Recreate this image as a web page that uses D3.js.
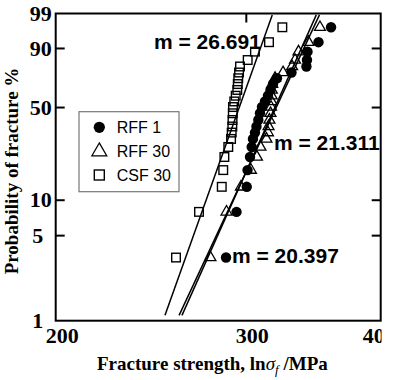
<!DOCTYPE html>
<html>
<head>
<meta charset="utf-8">
<script src="https://cdn.jsdelivr.net/npm/d3@7"></script>
<style>
  html, body { margin: 0; padding: 0; background: #fff; }
  svg { display: block; }
</style>
</head>
<body>
<svg id="chart" width="400" height="380"></svg>
<script>
// ---------------- data ----------------
// Probability of fracture (%) plotting positions shared by the three series
const probPct = [3.2, 7.9, 12.8, 17.5, 22.2, 26.5, 30.4, 33.8, 37.3, 41.3, 45.7, 50.0,
                 54.0, 58.2, 62.5, 66.9, 71.2, 75.3, 79.4, 83.5, 88.2, 92.5, 97.0];
// Fracture strength (MPa)
const rff1  = [287.6, 294.1, 300.6, 301.1, 302.7, 303.8, 304.6, 305.9, 306.9, 308.1, 309.2, 310.5,
               312.5, 314.5, 316.2, 317.9, 320.6, 330.7, 341.4, 341.8, 342.2, 350.3, 359.8];
const rff30 = [278.2, 287.9, 296.9, 303.3, 307.2, 309.5, 313.5, 314.5, 314.9, 315.5, 316.2, 316.6,
               316.9, 317.0, 317.1, 317.4, 319.3, 324.8, 331.1, 333.2, 335.7, 342.9, 351.4];
const csf30 = [258.5, 271.5, 285.0, 285.9, 286.6, 289.0, 290.7, 291.1, 291.5, 291.6, 291.8, 291.9,
               292.7, 293.6, 294.6, 294.9, 295.2, 295.7, 296.3, 301.2, 305.9, 315.2, 324.3];
const seriesNames = ["RFF 1", "RFF 30", "CSF 30"];

// Weibull fit lines: modulus m and strength at the lower end of the line
const fitM        = [20.397, 21.311, 26.691];
const fitLowSigma = [260.2, 261.8, 252.5];
const fitProbRange = [1.0, 98.9];
const fitLabels   = ["m = 20.397", "m = 21.311", "m = 26.691"];

// axis ticks
const probTicks   = [1, 5, 10, 50, 90, 99];
const strengthTicks = [200, 300, 400];
const xDomain = [200, 400];
const yDomainPct = [0.897, 99.034];

// ---------------- drawing ----------------
const svg = d3.select("#chart");
const L = 55.7, R = 380.7, T = 13.5, B = 320.7;

const weib = p => Math.log(-Math.log(1 - p / 100));
const x = d3.scaleLog().domain(xDomain).range([L, R]);
const yW = d3.scaleLinear().domain(yDomainPct.map(weib)).range([B, T]);
const y = p => yW(weib(p));

const serif = "'Liberation Serif','Times New Roman',serif";
const sans = "'Liberation Sans',Arial,Helvetica,sans-serif";

// fit lines
const lineGen = d3.line().x(d => x(d[0])).y(d => y(d[1]));
fitM.forEach((m, i) => {
  const s0 = fitLowSigma[i];
  const w0 = weib(fitProbRange[0]), w1 = weib(fitProbRange[1]);
  const s1 = Math.exp(Math.log(s0) + (w1 - w0) / m);
  svg.append("path")
    .attr("d", lineGen([[s0, fitProbRange[0]], [s1, fitProbRange[1]]]))
    .attr("fill", "none").attr("stroke", "#000").attr("stroke-width", 1.5);
});

// markers
function drawMarker(g, kind, cx, cy, big) {
  if (kind === 0) {
    g.append("circle").attr("cx", cx).attr("cy", cy).attr("r", big ? 5.6 : 5.2).attr("fill", "#000");
  } else if (kind === 1) {
    g.append("path").attr("d", d3.symbol().type(d3.symbolTriangle).size(big ? 95 : 52)())
      .attr("transform", `translate(${cx},${cy})`)
      .attr("fill", "none").attr("stroke", "#000").attr("stroke-width", 1.3);
  } else {
    const s = big ? 10 : 8.6;
    g.append("rect").attr("x", cx - s / 2).attr("y", cy - s / 2).attr("width", s).attr("height", s)
      .attr("fill", "none").attr("stroke", "#000").attr("stroke-width", 1.4);
  }
}
const pts = svg.append("g");
[csf30, rff30, rff1].forEach((arr, k) => {
  const kind = [2, 1, 0][k];
  arr.forEach((s, i) => drawMarker(pts, kind, x(s), y(probPct[i]), false));
});

// frame + axes
svg.append("rect").attr("x", L).attr("y", T).attr("width", R - L).attr("height", B - T)
  .attr("fill", "none").attr("stroke", "#000").attr("stroke-width", 2);

const yAxisL = d3.axisLeft(yW).tickValues(probTicks.map(weib))
  .tickFormat((d, i) => probTicks[i]).tickSizeInner(-9).tickSizeOuter(0).tickPadding(4);
const gL = svg.append("g").attr("transform", `translate(${L},0)`).call(yAxisL);
const yAxisR = d3.axisRight(yW).tickValues(probTicks.map(weib))
  .tickFormat("").tickSizeInner(-9).tickSizeOuter(0);
const gR = svg.append("g").attr("transform", `translate(${R},0)`).call(yAxisR);
[gL, gR].forEach(g => {
  g.selectAll(".tick").filter((d, i) => probTicks[i] === 1 || probTicks[i] === 99)
    .select("line").remove();
});
// left labels are centred in the margin; the "1" sits on the bottom frame corner
gL.selectAll(".tick text")
  .attr("text-anchor", "middle")
  .attr("x", (d, i) => String(probTicks[i]).length === 1 ? -18 : -15)
  .attr("y", (d, i) => probTicks[i] === 1 ? 5 : 0);

svg.append("defs").append("clipPath").attr("id", "clipx")
  .append("rect").attr("x", 0).attr("y", 0).attr("width", 381.5).attr("height", 380);

const xAxisB = d3.axisBottom(x).tickValues(strengthTicks).tickFormat(d3.format("d"))
  .tickSizeInner(-9).tickSizeOuter(0).tickPadding(7);
const gB = svg.append("g").attr("transform", `translate(0,${B})`).attr("clip-path", "url(#clipx)").call(xAxisB);
gB.selectAll(".tick text").attr("dx", (d) => d === 400 ? -2 : 6);
const xAxisT = d3.axisTop(x).tickValues([300]).tickFormat("")
  .tickSizeInner(-9).tickSizeOuter(0);
const gT = svg.append("g").attr("transform", `translate(0,${T})`).call(xAxisT);

[gL, gR, gB, gT].forEach(g => {
  g.select(".domain").remove();
  g.selectAll(".tick line").attr("stroke", "#000").attr("stroke-width", 2);
  g.selectAll(".tick text").attr("fill", "#000")
    .style("font-family", serif).style("font-weight", "bold").style("font-size", "22px");
});

// axis titles
svg.append("text")
  .attr("transform", `translate(18,171) rotate(-90)`)
  .attr("text-anchor", "middle")
  .style("font-family", serif).style("font-weight", "bold").style("font-size", "19px")
  .text("Probability of fracture %");

const xt = svg.append("text").attr("x", 97).attr("y", 370)
  .style("font-family", serif).style("font-weight", "bold").style("font-size", "19px");
xt.append("tspan").text("Fracture strength, ln");
xt.append("tspan").style("font-style", "italic").style("font-weight", "normal").text("σ");
xt.append("tspan").style("font-style", "italic").style("font-weight", "normal")
  .style("font-size", "13px").attr("dy", 4).text("f");
xt.append("tspan").attr("dy", -4).text(" /MPa");

// m labels
const mPos = [[232, 262.5], [274, 150], [154, 49]];
fitLabels.forEach((t, i) => {
  svg.append("text").attr("x", mPos[i][0]).attr("y", mPos[i][1])
    .style("font-family", sans).style("font-weight", "bold").style("font-size", "21px")
    .attr("fill", "#000").text(t);
});

// legend
const lg = svg.append("g");
lg.append("rect").attr("x", 79).attr("y", 111.7).attr("width", 100).attr("height", 80)
  .attr("fill", "#fff").attr("stroke", "#777").attr("stroke-width", 1.2);
const legY = [127.3, 151.5, 175];
seriesNames.forEach((n, i) => {
  drawMarker(lg, i, 99.3, legY[i], true);
  lg.append("text").attr("x", 116.7).attr("y", legY[i] + 5.6)
    .style("font-family", sans).style("font-size", "16px").attr("fill", "#000").text(n);
});
</script>
</body>
</html>
